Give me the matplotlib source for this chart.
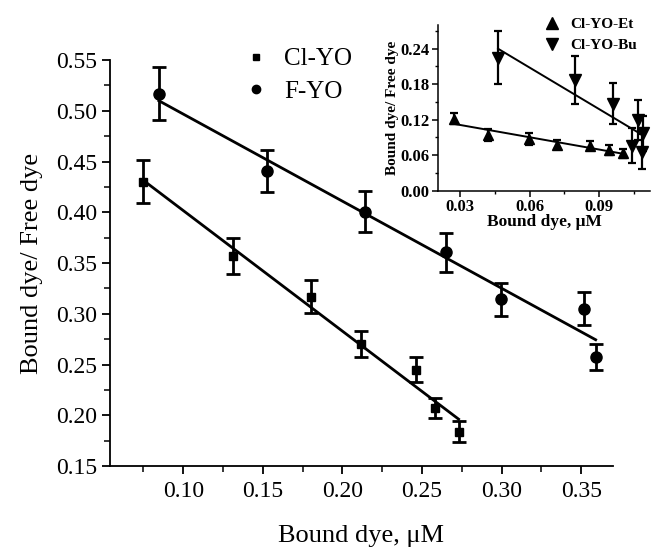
import numpy as np
import matplotlib.pyplot as plt
from matplotlib.ticker import MultipleLocator

plt.rcParams['font.family'] = ['Liberation Serif', 'DejaVu Serif']

# main plot: Scatchard data for Cl-YO and F-YO
cl_x = [0.075, 0.131, 0.180, 0.212, 0.246, 0.258, 0.273]
cl_y = [0.430, 0.357, 0.317, 0.270, 0.245, 0.207, 0.184]
cl_err = [0.021, 0.018, 0.016, 0.013, 0.012, 0.010, 0.010]

f_x = [0.0847, 0.1526, 0.2145, 0.2654, 0.2994, 0.3518, 0.3591]
f_y = [0.517, 0.4406, 0.4005, 0.3605, 0.3142, 0.305, 0.2577]
f_err = [0.026, 0.021, 0.020, 0.019, 0.016, 0.016, 0.013]

# inset: Cl-YO-Et and Cl-YO-Bu
et_x = [0.0276, 0.0421, 0.0596, 0.0719, 0.0859, 0.0944, 0.1004]
et_y = [0.122, 0.094, 0.088, 0.078, 0.076, 0.0686, 0.063]
et_err = [0.010, 0.010, 0.010, 0.008, 0.008, 0.008, 0.008]

bu_x = [0.0464, 0.0797, 0.0960, 0.1066, 0.1044, 0.1090, 0.1085]
bu_y = [0.225, 0.187, 0.147, 0.119, 0.076, 0.097, 0.066]
bu_err = [0.045, 0.040, 0.035, 0.034, 0.030, 0.030, 0.030]


def fit_line(ax, x, y, lw):
    k, b = np.polyfit(x, y, 1)
    xx = np.array([min(x), max(x)])
    ax.plot(xx, k * xx + b, color='black', lw=lw, zorder=2)


fig = plt.figure(figsize=(6.54, 5.5), dpi=100)

ax = fig.add_axes([0.1682, 0.1527, 0.7691, 0.7382])
ax.errorbar(cl_x, cl_y, yerr=cl_err, fmt='s', color='black', ms=6,
            elinewidth=2, capsize=5, capthick=2, zorder=3)
ax.errorbar(f_x, f_y, yerr=f_err, fmt='o', color='black', ms=8,
            elinewidth=2, capsize=5, capthick=2, zorder=3)
fit_line(ax, cl_x, cl_y, 2)
fit_line(ax, f_x, f_y, 2)
ax.plot([], [], 's', color='black', ms=5, label='Cl-YO')
ax.plot([], [], 'o', color='black', ms=6, label='F-YO')
ax.legend(loc='upper left', bbox_to_anchor=(0.215, 1.085), frameon=False,
          fontsize=18, handletextpad=0.55, labelspacing=0.4, handlelength=1.2)

ax.set_xlim(0.054, 0.37)
ax.set_ylim(0.15, 0.55)
ax.xaxis.set_minor_locator(MultipleLocator(0.025))
ax.yaxis.set_major_locator(MultipleLocator(0.05))
ax.yaxis.set_minor_locator(MultipleLocator(0.025))
ax.set_xticks([0.10, 0.15, 0.20, 0.25, 0.30, 0.35])
ax.xaxis.set_major_formatter(lambda v, p: f'{v:.2f}')
ax.yaxis.set_major_formatter(lambda v, p: f'{v:.2f}')
for s in ['top', 'right']:
    ax.spines[s].set_visible(False)
for s in ['left', 'bottom']:
    ax.spines[s].set_linewidth(1.3)
ax.tick_params(which='major', direction='out', length=6, width=1.3,
               labelsize=17)
ax.tick_params(axis='x', which='major', pad=5)
ax.tick_params(which='minor', direction='out', length=4, width=1.1)
ax.set_xlabel('Bound dye, μM', fontsize=19, labelpad=16)
ax.set_ylabel('Bound dye/ Free dye', fontsize=19, labelpad=9)

# inset
ins = fig.add_axes([0.6697, 0.6533, 0.3243, 0.3012])
ins.set_facecolor('white')
ins.errorbar(et_x, et_y, yerr=et_err, fmt='^', color='black', ms=7,
             elinewidth=1.6, capsize=3, capthick=1.6, zorder=3)
ins.errorbar(bu_x, bu_y, yerr=bu_err, fmt='v', color='black', ms=8,
             elinewidth=1.6, capsize=3, capthick=1.6, zorder=3)
fit_line(ins, et_x, et_y, 1.4)
fit_line(ins, bu_x, bu_y, 1.4)
ins.plot([], [], '^', color='black', ms=8, label='Cl-YO-Et')
ins.plot([], [], 'v', color='black', ms=8, label='Cl-YO-Bu')
ins.legend(loc='upper left', bbox_to_anchor=(0.43, 1.13), frameon=False,
           handletextpad=0.6, labelspacing=0.5, handlelength=1.2,
           prop={'weight': 'bold', 'size': 11})

ins.set_xlim(0.0205, 0.112)
ins.set_ylim(0, 0.28)
ins.xaxis.set_major_locator(MultipleLocator(0.03))
ins.xaxis.set_minor_locator(MultipleLocator(0.015))
ins.yaxis.set_minor_locator(MultipleLocator(0.03))
ins.set_yticks([0, 0.06, 0.12, 0.18, 0.24])
ins.xaxis.set_major_formatter(lambda v, p: f'{v:.2f}')
ins.yaxis.set_major_formatter(lambda v, p: f'{v:.2f}')
for s in ['top', 'right']:
    ins.spines[s].set_visible(False)
for s in ['left', 'bottom']:
    ins.spines[s].set_linewidth(1.1)
ins.tick_params(which='major', direction='out', length=4, width=1.1,
                labelsize=12, pad=2)
ins.tick_params(which='minor', direction='out', length=2.5, width=1)
for lab in ins.get_xticklabels() + ins.get_yticklabels():
    lab.set_fontweight('bold')
ins.set_xlabel('Bound dye, μM', fontsize=12.5, fontweight='bold', labelpad=-1)
ins.set_ylabel('Bound dye/ Free dye', fontsize=11, fontweight='bold',
               labelpad=1)

fig.savefig('out.png', dpi=100, facecolor='white')
